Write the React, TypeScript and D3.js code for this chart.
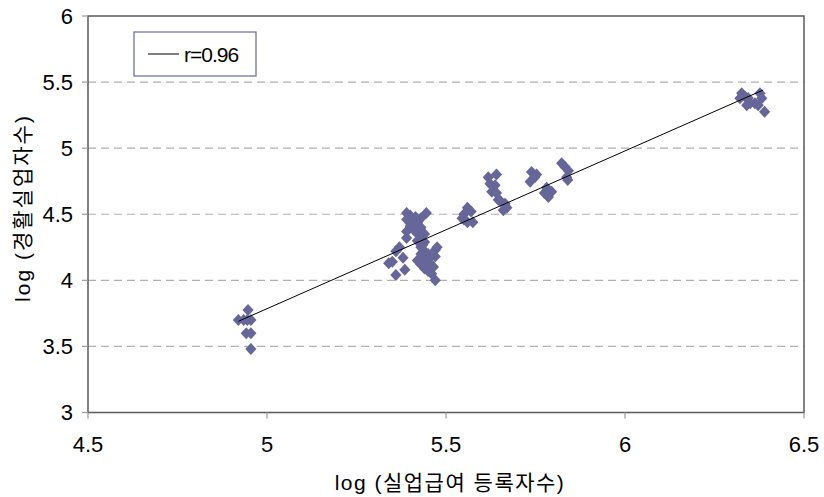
import React from "react";
import * as d3 from "d3";

const xTicks = [4.5, 5, 5.5, 6, 6.5];
const yTicks = [3, 3.5, 4, 4.5, 5, 5.5, 6];
const gridY = [3.5, 4, 4.5, 5, 5.5];

const pointsX = [
  4.92, 4.935, 4.945, 4.955, 4.947, 4.942, 4.955, 4.955,
  5.39, 5.40, 5.445, 5.43, 5.39, 5.405, 5.42, 5.40, 5.42, 5.43, 5.41, 5.42, 5.39, 5.44, 5.43, 5.39, 5.42, 5.44,
  5.37, 5.36, 5.43, 5.44, 5.45, 5.47, 5.475, 5.43, 5.35, 5.34, 5.38, 5.385, 5.36, 5.47, 5.44, 5.45, 5.465, 5.44,
  5.45, 5.47, 5.46, 5.42, 5.43, 5.44, 5.41, 5.425, 5.415, 5.45, 5.455, 5.435,
  5.55, 5.56, 5.57, 5.545, 5.56, 5.575, 5.55,
  5.618, 5.641, 5.623, 5.637, 5.628, 5.641, 5.646, 5.665, 5.66, 5.652, 5.67,
  5.739, 5.753, 5.735, 5.748, 5.781, 5.795, 5.786, 5.775,
  5.823, 5.832, 5.842, 5.837, 5.84,
  6.326, 6.335, 6.321, 6.344, 6.35, 6.34, 6.363, 6.377, 6.382, 6.372, 6.39,
];
const pointsY = [
  3.70, 3.70, 3.70, 3.70, 3.775, 3.60, 3.60, 3.48,
  4.51, 4.49, 4.51, 4.47, 4.46, 4.45, 4.44, 4.41, 4.42, 4.40, 4.38, 4.37, 4.37, 4.35, 4.33, 4.32, 4.30, 4.29,
  4.25, 4.22, 4.25, 4.22, 4.20, 4.23, 4.25, 4.20, 4.14, 4.13, 4.17, 4.08, 4.04, 4.18, 4.14, 4.11, 4.10, 4.09,
  4.07, 4.00, 4.05, 4.15, 4.12, 4.17, 4.43, 4.34, 4.48, 4.16, 4.13, 4.27,
  4.50, 4.55, 4.52, 4.47, 4.44, 4.44, 4.46,
  4.78, 4.80, 4.73, 4.72, 4.67, 4.66, 4.61, 4.58, 4.53, 4.60, 4.55,
  4.82, 4.80, 4.745, 4.78, 4.70, 4.67, 4.63, 4.66,
  4.885, 4.86, 4.83, 4.78, 4.76,
  5.415, 5.39, 5.377, 5.38, 5.34, 5.325, 5.34, 5.415, 5.377, 5.325, 5.275,
];

const trendX = [4.92, 6.386];
const trendY = [3.69, 5.44];

const legendLabel = "r=0.96";
const xTitle = "log (실업급여 등록자수)";
const yTitle = "log (경활실업자수)";

const W = 824;
const H = 497;
const L = 88, R = 804, T = 16, B = 412.5;
const font = "'Liberation Sans', Arial, 'Noto Sans CJK KR', sans-serif";

export default function App() {
  const x = d3.scaleLinear().domain([4.5, 6.5]).range([L, R]);
  const y = d3.scaleLinear().domain([3, 6]).range([B, T]);
  const hw = 5.6, hh = 6;
  const diamond = `M0,${-hh}L${hw},0L0,${hh}L${-hw},0Z`;
  const line = d3
    .line<number>()
    .x((d, i) => x(trendX[i]))
    .y((d) => y(d));

  return (
    <svg
      width={W}
      height={H}
      style={{ position: "absolute", left: 0, top: 0, background: "#fff" }}
      fontFamily={font}
    >
      <rect x={0} y={0} width={W} height={H} fill="#fff" />
      {gridY.map((v) => (
        <line
          key={v}
          x1={L}
          x2={R}
          y1={y(v)}
          y2={y(v)}
          stroke="#b0b0b0"
          strokeWidth={1.2}
          strokeDasharray="8,5"
        />
      ))}
      <rect x={L} y={T} width={R - L} height={B - T} fill="none" stroke="#5a5a5a" strokeWidth={1.5} />
      {yTicks.map((v) => (
        <g key={v}>
          <line x1={L - 6} x2={L} y1={y(v)} y2={y(v)} stroke="#999" strokeWidth={1.2} />
          <text x={73} y={y(v)} dy="0.36em" textAnchor="end" fontSize={22} fill="#000">
            {v}
          </text>
        </g>
      ))}
      {xTicks.map((v) => (
        <g key={v}>
          <line x1={x(v)} x2={x(v)} y1={B} y2={B + 6} stroke="#999" strokeWidth={1.2} />
          <text x={x(v)} y={452} textAnchor="middle" fontSize={22} fill="#000">
            {v}
          </text>
        </g>
      ))}
      {pointsX.map((px, i) => (
        <path
          key={i}
          d={diamond}
          transform={`translate(${x(px)},${y(pointsY[i])})`}
          fill="#666699"
        />
      ))}
      <path d={line(trendY) || ""} fill="none" stroke="#000" strokeWidth={1} />
      <rect x={134} y={32} width={122} height={44} fill="#fff" stroke="#6666a0" strokeWidth={1.2} />
      <line x1={148} x2={179} y1={54} y2={54} stroke="#000" strokeWidth={1} />
      <text x={184} y={54} dy="0.36em" fontSize={21} fill="#000" letterSpacing={-1}>
        {legendLabel}
      </text>
      <text x={450} y={490} textAnchor="middle" fontSize={21} fill="#000" letterSpacing={1.5}>
        {xTitle}
      </text>
      <text
        transform={`translate(30,208) rotate(-90)`}
        textAnchor="middle"
        fontSize={21}
        fill="#000"
        letterSpacing={2}
      >
        {yTitle}
      </text>
    </svg>
  );
}
